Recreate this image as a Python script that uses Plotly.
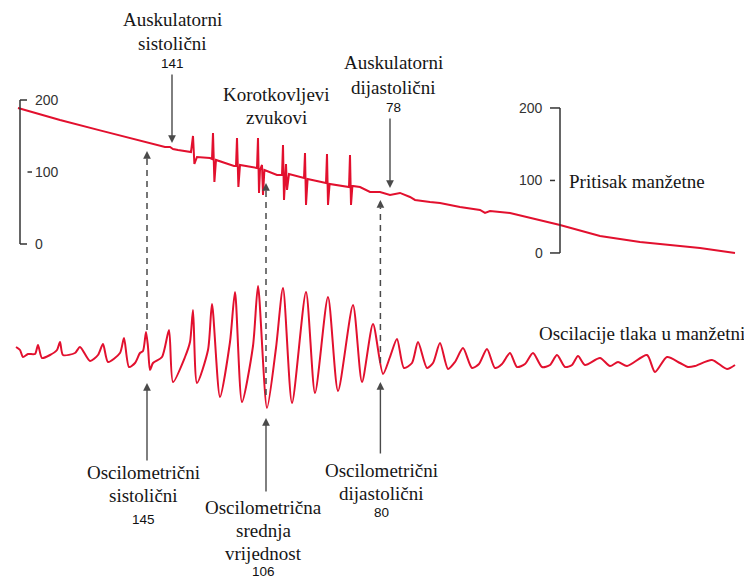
import plotly.graph_objects as go

# ---------------- data ----------------
# Cuff pressure (mmHg) over time (s)
cuff_t = [0.90, 3.00, 5.00, 7.00, 7.85, 8.25, 8.50, 8.65, 8.90, 9.25, 9.55,
          9.65, 9.72, 9.85, 10.50,
          10.60, 10.65, 10.72, 10.80, 11.70,
          11.80, 11.85, 11.92, 12.00, 12.80,
          12.85, 12.90, 12.95, 13.00, 13.10, 13.15, 13.22, 13.85,
          14.10, 14.15, 14.20, 14.30, 14.35, 14.45, 15.15,
          15.20, 15.25, 15.30, 15.38, 16.25,
          16.30, 16.35, 16.40, 16.48, 17.40,
          17.45, 17.50, 17.55, 17.62, 18.00,
          18.50, 19.00, 19.50, 20.00, 20.50, 20.75, 21.50, 22.00, 23.00,
          24.00, 24.25, 24.50, 25.50, 26.50, 28.00, 30.00, 32.00, 35.00, 36.75]
cuff_p = [200.0, 183.4, 169.1, 155.0, 149.0, 146.2, 146.2, 143.4, 142.1, 140.7, 139.3,
          161.4, 122.8, 132.4, 131.0,
          129.7, 165.5, 97.9, 128.3, 120.0,
          120.0, 158.6, 91.0, 121.4, 117.2,
          117.2, 158.6, 82.8, 114.5, 121.4, 80.0, 114.5, 107.6,
          107.6, 149.0, 73.1, 122.8, 86.9, 109.0, 103.4,
          103.4, 137.9, 66.2, 102.1, 96.6,
          96.6, 136.6, 66.2, 95.2, 91.0,
          91.0, 135.2, 66.2, 92.4, 91.0,
          84.1, 84.1, 80.0, 82.8, 77.2, 73.1, 70.3, 69.0, 63.4,
          59.3, 55.2, 57.9, 55.2, 48.3, 38.6, 23.4, 15.2, 6.9, 0.0]

# Cuff pressure oscillations (mmHg, relative) over time (s)
osc_t = [0.80, 1.00, 1.15, 1.40, 1.75, 1.90, 2.10, 2.50, 2.85, 3.00, 3.15, 3.75,
         4.00, 4.50, 4.90, 5.15, 5.40, 6.00, 6.20, 6.45, 6.75, 7.00, 7.15, 7.30,
         7.40, 7.50, 7.65, 8.10, 8.45, 8.65, 9.25, 9.50, 9.65, 9.85, 10.40, 10.60,
         11.00, 11.50, 11.75, 12.10, 12.65, 12.90, 13.35, 13.80, 14.15, 14.60,
         15.30, 15.75, 16.40, 16.90, 17.65, 18.10, 18.65, 19.15, 19.50, 19.85,
         20.20, 20.60, 20.90, 21.35, 21.65, 22.00, 22.40, 22.75, 23.15, 23.60,
         23.95, 24.35, 24.75, 25.10, 25.50, 25.85, 26.25, 26.65, 27.10, 27.50,
         27.85, 28.25, 28.60, 28.90, 29.25, 30.00, 30.50, 30.90, 31.35, 32.35,
         32.75, 33.35, 34.00, 34.40, 34.75, 35.60, 36.35, 36.75]
osc_a = [0.5, 0.2, -0.5, -0.2, -0.2, 0.7, -0.6, -0.3, 0.2, 1.0, -0.3, -0.1,
         0.5, -0.9, -0.3, 0.8, -1.0, -0.1, 1.4, -1.5, -1.1, -0.1, 0.1, 2.0,
         0.5, -1.8, -1.1, -0.5, 2.2, -3.0, -0.5, 1.0, 4.2, -3.1, 0.2, 4.8,
         -4.5, 1.0, 6.0, -5.0, 0.6, 6.6, -5.6, 0.4, 6.4, -5.1,
         6.0, -4.1, 5.5, -3.9, 4.7, -3.0, 2.8, -2.2, -0.5, 1.3,
         -1.6, -1.1, 1.0, -1.6, -1.1, 0.9, -1.7, -1.0, 0.4, -1.6,
         -1.2, 0.3, -1.6, -1.2, -0.1, -1.5, -1.2, -0.1, -1.5, -1.3,
         -0.3, -1.5, -1.3, -0.4, -1.3, -0.6, -1.4, -1.0, -1.4, -0.3,
         -2.0, -0.5, -1.1, -1.5, -1.4, -0.8, -1.7, -1.3]

scale_ticks = [0, 100, 200]
scale_labels = ["0", "100", "200"]

aus_times = [8.6, 19.5]
aus_values = [141, 78]
aus_names = [["Auskulatorni", "sistolični"], ["Auskulatorni", "dijastolični"]]

osc_times = [7.35, 13.3, 19.02]
osc_values = [145, 106, 80]
osc_names = [["Oscilometrični", "sistolični"],
             ["Oscilometrična", "srednja", "vrijednost"],
             ["Oscilometrični", "dijastolični"]]

korot_text = ["Korotkovljevi", "zvukovi"]
cuff_label = "Pritisak manžetne"
osc_label = "Oscilacije tlaka u manžetni"

# ---------------- layout helpers ----------------
PAGE_W, PAGE_H = 752, 579
OFF = 8                     # default page body margin
W, H = PAGE_W - OFF, PAGE_H - OFF
PX_PER_S = 20.0
RED = "#e2102e"
GREY = "#4a4a4a"
SERIF = "Liberation Serif, Times New Roman, serif"
SANS = "Liberation Sans, Arial, sans-serif"
TXT = "#161616"


def xs(px):
    return px / PX_PER_S


def yp(py):
    return 1 - (py - OFF) / H


fig = go.Figure()

fig.add_trace(go.Scatter(x=cuff_t, y=cuff_p, mode="lines", yaxis="y",
                         line=dict(color=RED, width=2), hoverinfo="skip"))
fig.add_trace(go.Scatter(x=osc_t, y=osc_a, mode="lines", yaxis="y2",
                         line=dict(color=RED, width=2, shape="spline", smoothing=0.7),
                         hoverinfo="skip"))

shapes = []
ann = []

# left scale (yaxis3)
lx = xs(20)
shapes.append(dict(type="line", xref="x", yref="y3", x0=lx, x1=lx,
                   y0=min(scale_ticks), y1=max(scale_ticks),
                   line=dict(color="#333", width=1.5)))
for v, lab in zip(scale_ticks, scale_labels):
    if v in (min(scale_ticks), max(scale_ticks)):
        x0, x1 = lx, xs(27)
    else:
        x0, x1 = xs(27.5), xs(32)
    shapes.append(dict(type="line", xref="x", yref="y3", x0=x0, x1=x1, y0=v, y1=v,
                       line=dict(color="#333", width=1.5)))
    ann.append(dict(x=xs(33), y=v, xref="x", yref="y3", text=lab, showarrow=False,
                    xanchor="left", yanchor="middle",
                    font=dict(family=SANS, size=14, color="#333")))

# right scale (yaxis, cuff)
rx = xs(560)
shapes.append(dict(type="line", xref="x", yref="y", x0=rx, x1=rx,
                   y0=min(scale_ticks), y1=max(scale_ticks),
                   line=dict(color="#333", width=1.5)))
for v, lab in zip(scale_ticks, scale_labels):
    if v in (min(scale_ticks), max(scale_ticks)):
        x0, x1 = xs(550), rx
    else:
        x0, x1 = xs(550), xs(555)
    shapes.append(dict(type="line", xref="x", yref="y", x0=x0, x1=x1, y0=v, y1=v,
                       line=dict(color="#333", width=1.5)))
    ann.append(dict(x=xs(545), y=v, xref="x", yref="y", text=lab, showarrow=False,
                    xanchor="right", yanchor="middle",
                    font=dict(family=SANS, size=14, color="#333")))

ann.append(dict(x=xs(567), y=yp(181), xref="x", yref="paper", text=cuff_label,
                showarrow=False, xanchor="left", yanchor="middle",
                font=dict(family=SERIF, size=19, color=TXT)))
ann.append(dict(x=xs(537), y=yp(333), xref="x", yref="paper", text=osc_label,
                showarrow=False, xanchor="left", yanchor="middle",
                font=dict(family=SERIF, size=19, color=TXT)))


def text_block(cx, line_ys, lines, val, val_y):
    for ly, s in zip(line_ys, lines):
        ann.append(dict(x=xs(cx), y=yp(ly), xref="x", yref="paper", text=s,
                        showarrow=False, xanchor="center", yanchor="middle",
                        font=dict(family=SERIF, size=19, color=TXT)))
    if val is not None:
        ann.append(dict(x=xs(cx), y=yp(val_y), xref="x", yref="paper", text=str(val),
                        showarrow=False, xanchor="center", yanchor="middle",
                        font=dict(family=SANS, size=13.5, color="#111")))


def arrow(t, tail_py, tip_py):
    ann.append(dict(x=t, y=yp(tip_py), xref="x", yref="paper", text="",
                    showarrow=True, ax=0, ay=tail_py - tip_py,
                    arrowhead=2, arrowsize=1.1, arrowwidth=1.4, arrowcolor=GREY))


# auscultatory (top)
top_cx = [172, 393]
top_lines_y = [[20, 43], [63, 87]]
top_val_y = [64, 107]
top_tail = [73, 117]
top_tip = [143, 188]
for i in range(len(aus_times)):
    text_block(top_cx[i], top_lines_y[i], aus_names[i], aus_values[i], top_val_y[i])
    arrow(aus_times[i], top_tail[i], top_tip[i])

text_block(276, [95, 117], korot_text, None, None)

# oscillometric (bottom)
bot_cx = [143, 263, 381]
bot_lines_y = [[472, 495], [507, 530, 553], [470, 493]]
bot_val_y = [519, 571, 512]
bot_tail = [462, 493, 455]
bot_tip = [383, 418, 382]
dash_bottom = [330, 395, 363]
dash_tip = [151, 183, 200]
for i in range(len(osc_times)):
    text_block(bot_cx[i], bot_lines_y[i], osc_names[i], osc_values[i], bot_val_y[i])
    arrow(osc_times[i], bot_tail[i], bot_tip[i])
    shapes.append(dict(type="line", xref="x", yref="paper",
                       x0=osc_times[i], x1=osc_times[i],
                       y0=yp(dash_bottom[i]), y1=yp(dash_tip[i] + 8),
                       line=dict(color=GREY, width=1.5, dash="6px,5px")))
    arrow(osc_times[i], dash_tip[i] + 9, dash_tip[i])

fig.update_layout(
    width=W, height=H,
    margin=dict(l=0, r=0, t=0, b=0),
    paper_bgcolor="white", plot_bgcolor="white",
    showlegend=False,
    xaxis=dict(range=[xs(OFF), xs(PAGE_W)], visible=False, fixedrange=True),
    yaxis=dict(range=[-449.7, 337.9], visible=False, fixedrange=True),
    yaxis2=dict(range=[-22.7, 34.4], overlaying="y", visible=False, fixedrange=True),
    yaxis3=dict(range=[-465.3, 327.8], overlaying="y", visible=False, fixedrange=True),
    shapes=shapes,
    annotations=ann,
)

fig.write_html("out.html")
